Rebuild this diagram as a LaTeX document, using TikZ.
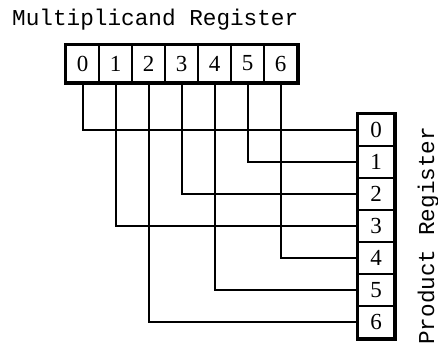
\documentclass[tikz,border=0pt]{standalone}
\usepackage{fontspec}
\newfontfamily\regmono{Liberation Mono}
\newfontfamily\cellfont{Liberation Serif}
\begin{document}
\begin{tikzpicture}[x=1pt,y=-1pt,
  cellbox/.style={draw, line width=1.8pt, inner sep=0pt,
    font=\cellfont\fontsize{23}{23}\selectfont},
  mcell/.style={cellbox, minimum width=33pt, minimum height=37pt},
  pcell/.style={cellbox, minimum width=36pt, minimum height=32pt},
  frame/.style={draw, line width=3.2pt},
  wire/.style={draw, line width=2pt},
  caption/.style={font=\regmono\fontsize{22.7}{22.7}\selectfont, inner sep=0pt}]
\useasboundingbox (0,0) rectangle (438,346);

% register captions
\node[caption, anchor=base west] (mtitle) at (12,25) {Multiplicand Register};
\node[caption, anchor=base west, rotate=90] (ptitle) at (434,345) {Product Register};

% multiplicand register: seven cells in a row
\foreach \i in {0,...,6}
  \node[mcell] (m\i) at ({82.5+33*\i},63.5) {\i};
\draw[frame] (m0.north west) rectangle (m6.south east);

% product register: seven cells in a column
\foreach \j in {0,...,6}
  \node[pcell] (p\j) at (376,{130+32*\j}) {\j};
\draw[frame] (p0.north west) rectangle (p6.south east);

% wiring: multiplicand bit i feeds product bit 3i mod 7
\foreach \i/\j in {0/0,1/3,2/6,3/2,4/5,5/1,6/4}
  \draw[wire] (m\i.south) |- (p\j.west);
\end{tikzpicture}
\end{document}
